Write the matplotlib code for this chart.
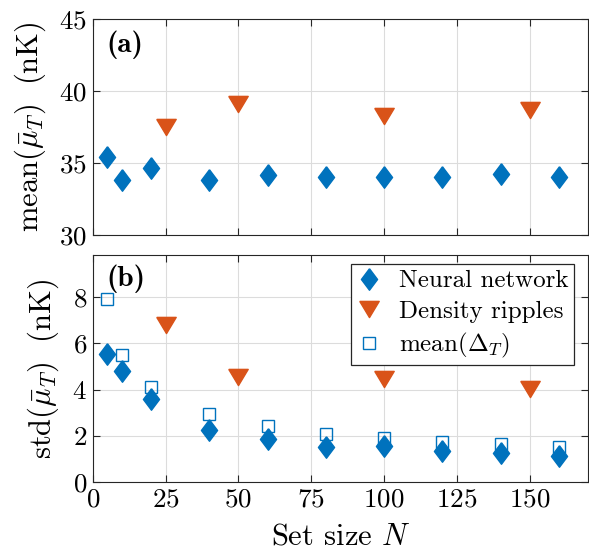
import matplotlib
matplotlib.use("Agg")
import matplotlib.pyplot as plt
import numpy as np

plt.rcParams['font.family'] = 'cmr10'
plt.rcParams['mathtext.fontset'] = 'cm'
plt.rcParams['axes.formatter.use_mathtext'] = True
plt.rcParams['axes.unicode_minus'] = False

# data
nn_sizes = [5, 10, 20, 40, 60, 80, 100, 120, 140, 160]
nn_mean = [35.44, 33.8, 34.68, 33.8, 34.19, 34.05, 34.05, 34.03, 34.26, 34.05]
nn_std = [5.52, 4.81, 3.59, 2.25, 1.85, 1.53, 1.55, 1.35, 1.25, 1.13]
delta_mean = [7.89, 5.47, 4.09, 2.94, 2.43, 2.08, 1.9, 1.74, 1.65, 1.53]

dr_sizes = [25, 50, 100, 150]
dr_mean = [37.5, 39.13, 38.24, 38.7]
dr_std = [6.78, 4.54, 4.44, 4.01]

blue = '#0072BD'
orange = '#D95319'
spine_col = '#262626'

# MATLAB-like marker shapes
diamond = [(0, 1), (0.75, 0), (0, -1), (-0.75, 0), (0, 1)]
tri_down = [(-0.6, 0.5), (0.6, 0.5), (0, -0.5), (-0.6, 0.5)]

fig = plt.figure(figsize=(5.89, 5.52), dpi=100)
ax1 = fig.add_axes([0.1574, 0.5743, 0.8413, 0.3913])
ax2 = fig.add_axes([0.1574, 0.1263, 0.8413, 0.4118])


def style(ax):
    ax.set_xlim(0, 170)
    ax.set_xticks([0, 25, 50, 75, 100, 125, 150])
    ax.grid(True, color='#dcdcdc', linewidth=0.8)
    ax.set_axisbelow(True)
    ax.tick_params(direction='in', top=True, right=True, length=5,
                   width=0.8, color=spine_col, labelsize=19.5, pad=4)
    for s in ax.spines.values():
        s.set_color(spine_col)
        s.set_linewidth(0.8)


# panel (a)
ax1.plot(nn_sizes, nn_mean, linestyle='none', marker=diamond, ms=15.5,
         color=blue, mec=blue, zorder=3)
ax1.plot(dr_sizes, dr_mean, linestyle='none', marker=tri_down, ms=14,
         color=orange, mec=orange, zorder=3)
style(ax1)
ax1.set_ylim(30, 45)
ax1.set_yticks([30, 35, 40, 45])
ax1.set_xticklabels([])
ax1.set_ylabel(r'$\mathrm{mean}(\bar{\mu}_T)\ \ \mathrm{(nK)}$', fontsize=22,
               labelpad=8)
ax1.text(0.028, 0.88, '(a)', transform=ax1.transAxes, family='cmb10',
         fontsize=21, va='center', ha='left')

# panel (b)
ax2.plot(nn_sizes, delta_mean, linestyle='none', marker='s',
         ms=8.2, mfc='none', mec=blue, mew=1.0, zorder=2,
         label=r'mean$(\Delta_T)$')
ax2.plot(nn_sizes, nn_std, linestyle='none', marker=diamond, ms=15.5,
         color=blue, mec=blue, zorder=3, label='Neural network')
ax2.plot(dr_sizes, dr_std, linestyle='none', marker=tri_down, ms=14,
         color=orange, mec=orange, zorder=3, label='Density ripples')
style(ax2)
ax2.set_ylim(0, 9.8)
ax2.set_yticks([0, 2, 4, 6, 8])
ax2.set_ylabel(r'$\mathrm{std}(\bar{\mu}_T)\ \ \mathrm{(nK)}$', fontsize=22,
               labelpad=8)
ax2.set_xlabel(r'Set size $N$', fontsize=22, labelpad=8)
ax2.text(0.028, 0.897, '(b)', transform=ax2.transAxes, family='cmb10',
         fontsize=21, va='center', ha='left')

h, l = ax2.get_legend_handles_labels()
order = [1, 2, 0]
leg = ax2.legend([h[i] for i in order], [l[i] for i in order],
                 loc='upper right', bbox_to_anchor=(0.972, 0.959),
                 fontsize=18, frameon=True, fancybox=False,
                 edgecolor=spine_col, framealpha=1, handlelength=1.0,
                 handletextpad=0.7, borderpad=0.22, labelspacing=0.32,
                 borderaxespad=0)
leg.get_frame().set_linewidth(0.9)

fig.savefig('out.png', dpi=100)
